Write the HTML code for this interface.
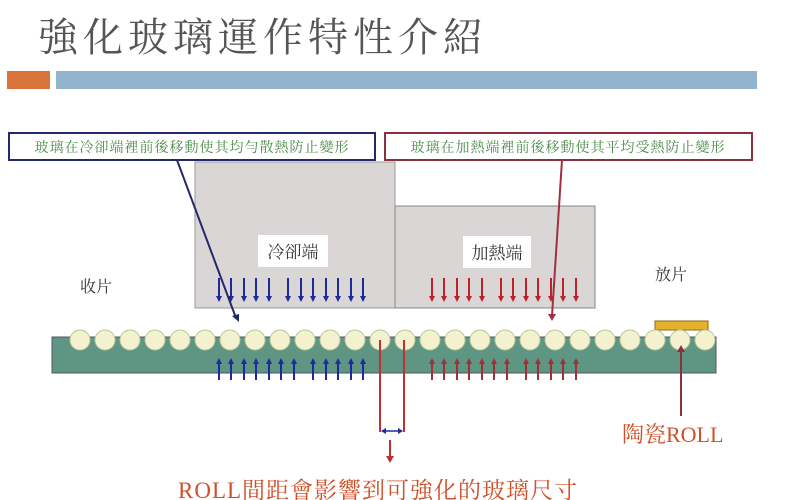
<!DOCTYPE html>
<html><head><meta charset="utf-8"><style>
html,body{margin:0;padding:0;background:#fff;}
svg{display:block;}
.cjk{font-family:"Liberation Serif","Noto Serif CJK SC","Noto Sans CJK TC",serif;}
</style></head><body>
<svg width="795" height="500" viewBox="0 0 795 500" xmlns="http://www.w3.org/2000/svg">
<text x="38" y="51" class="cjk" font-size="40" fill="#555" letter-spacing="5">強化玻璃運作特性介紹</text>
<rect x="7" y="71" width="43" height="18" fill="#d9743a"/>
<rect x="56" y="71" width="701" height="18" fill="#93b3cf"/>

<rect x="195" y="162" width="200" height="146" fill="#d9d6d5" stroke="#999" stroke-width="1"/>
<rect x="395" y="206" width="200" height="102" fill="#d9d6d5" stroke="#888" stroke-width="1"/>
<rect x="258" y="235" width="70" height="32" fill="#fff"/>
<text x="293" y="258" text-anchor="middle" class="cjk" font-size="17" fill="#333">冷卻端</text>
<rect x="463" y="236" width="68" height="32" fill="#fff"/>
<text x="497" y="259" text-anchor="middle" class="cjk" font-size="17" fill="#333">加熱端</text>
<text x="80" y="292" class="cjk" font-size="16" fill="#333">收片</text>
<text x="655" y="280" class="cjk" font-size="16" fill="#333">放片</text>

<rect x="9" y="133" width="366" height="27" fill="#fff" stroke="#25286a" stroke-width="2"/>
<text x="192" y="152" text-anchor="middle" class="cjk" font-size="14" fill="#4a8a48" letter-spacing="1">玻璃在冷卻端裡前後移動使其均勻散熱防止變形</text>
<rect x="385" y="133" width="367" height="27" fill="#fff" stroke="#8a3040" stroke-width="2"/>
<text x="568" y="152" text-anchor="middle" class="cjk" font-size="14" fill="#4a8a48" letter-spacing="1">玻璃在加熱端裡前後移動使其平均受熱防止變形</text>

<rect x="52" y="337" width="664" height="36" fill="#5f9683" stroke="#556" stroke-width="1"/>
<rect x="655" y="321" width="53" height="9" fill="#e6b12c" stroke="#8a6a10" stroke-width="1"/>
<g fill="#f4f1cf" stroke="#b9c59a" stroke-width="1">
<circle cx="80" cy="340" r="10"/><circle cx="105" cy="340" r="10"/><circle cx="130" cy="340" r="10"/><circle cx="155" cy="340" r="10"/><circle cx="180" cy="340" r="10"/><circle cx="205" cy="340" r="10"/><circle cx="230" cy="340" r="10"/><circle cx="255" cy="340" r="10"/><circle cx="280" cy="340" r="10"/><circle cx="305" cy="340" r="10"/><circle cx="330" cy="340" r="10"/><circle cx="355" cy="340" r="10"/><circle cx="380" cy="340" r="10"/><circle cx="405" cy="340" r="10"/><circle cx="430" cy="340" r="10"/><circle cx="455" cy="340" r="10"/><circle cx="480" cy="340" r="10"/><circle cx="505" cy="340" r="10"/><circle cx="530" cy="340" r="10"/><circle cx="555" cy="340" r="10"/><circle cx="580" cy="340" r="10"/><circle cx="605" cy="340" r="10"/><circle cx="630" cy="340" r="10"/><circle cx="655" cy="340" r="10"/><circle cx="680" cy="340" r="10"/><circle cx="705" cy="340" r="10"/>
</g>

<g stroke-width="2">
<g stroke="#1c2a9a">
<path d="M219,278V298M231,278V298M244,278V298M256,278V298M269,278V298M288,278V298M301,278V298M313,278V298M326,278V298M338,278V298M351,278V298M363,278V298"/>
</g>
<g stroke="#c0202a">
<path d="M432,278V298M444,278V298M457,278V298M469,278V298M482,278V298M501,278V298M513,278V298M526,278V298M538,278V298M551,278V298M563,278V298M576,278V298"/>
</g>
<g stroke="#1c2a9a">
<path d="M219,380V362M231,380V362M244,380V362M256,380V362M269,380V362M281,380V362M294,380V362M313,380V362M326,380V362M338,380V362M351,380V362M363,380V362"/>
</g>
<g stroke="#a03038">
<path d="M432,380V362M444,380V362M457,380V362M469,380V362M482,380V362M494,380V362M507,380V362M526,380V362M538,380V362M551,380V362M563,380V362M576,380V362"/>
</g>
</g>
<g fill="#1c2a9a">
<path d="M216,296h6l-3,6zM228,296h6l-3,6zM241,296h6l-3,6zM253,296h6l-3,6zM266,296h6l-3,6zM285,296h6l-3,6zM298,296h6l-3,6zM310,296h6l-3,6zM323,296h6l-3,6zM335,296h6l-3,6zM348,296h6l-3,6zM360,296h6l-3,6z"/>
<path d="M216,364h6l-3,-6zM228,364h6l-3,-6zM241,364h6l-3,-6zM253,364h6l-3,-6zM266,364h6l-3,-6zM278,364h6l-3,-6zM291,364h6l-3,-6zM310,364h6l-3,-6zM323,364h6l-3,-6zM335,364h6l-3,-6zM348,364h6l-3,-6zM360,364h6l-3,-6z"/>
</g>
<g fill="#c0202a">
<path d="M429,296h6l-3,6zM441,296h6l-3,6zM454,296h6l-3,6zM466,296h6l-3,6zM479,296h6l-3,6zM498,296h6l-3,6zM510,296h6l-3,6zM523,296h6l-3,6zM535,296h6l-3,6zM548,296h6l-3,6zM560,296h6l-3,6zM573,296h6l-3,6z"/>
</g>
<g fill="#a03038">
<path d="M429,364h6l-3,-6zM441,364h6l-3,-6zM454,364h6l-3,-6zM466,364h6l-3,-6zM479,364h6l-3,-6zM491,364h6l-3,-6zM504,364h6l-3,-6zM523,364h6l-3,-6zM535,364h6l-3,-6zM548,364h6l-3,-6zM560,364h6l-3,-6zM573,364h6l-3,-6z"/>
</g>

<line x1="177" y1="160" x2="236" y2="318" stroke="#25286a" stroke-width="2"/>
<path d="M232,316l7,6l0,-8z" fill="#25286a"/>
<line x1="562" y1="160" x2="552" y2="316" stroke="#a03040" stroke-width="2"/>
<path d="M548,314h8l-4,7z" fill="#a03040"/>

<line x1="380" y1="340" x2="380" y2="432" stroke="#c03030" stroke-width="2"/>
<line x1="404" y1="340" x2="404" y2="432" stroke="#c03030" stroke-width="2"/>
<line x1="382" y1="431" x2="402" y2="431" stroke="#1c2a9a" stroke-width="1.5"/>
<path d="M381,431l5,-3v6zM403,431l-5,-3v6z" fill="#1c2a9a"/>
<line x1="390" y1="440" x2="390" y2="458" stroke="#c03030" stroke-width="2"/>
<path d="M386,456h8l-4,7z" fill="#c03030"/>

<line x1="681" y1="350" x2="681" y2="416" stroke="#8a3040" stroke-width="2"/>
<path d="M677,352h8l-4,-7z" fill="#8a3040"/>
<text x="622" y="442" class="cjk" font-size="22" fill="#d0502a">陶瓷ROLL</text>
<text x="178" y="498" class="cjk" font-size="23" fill="#d0502a" letter-spacing="1">ROLL間距會影響到可強化的玻璃尺寸</text>
</svg>
</body></html>
